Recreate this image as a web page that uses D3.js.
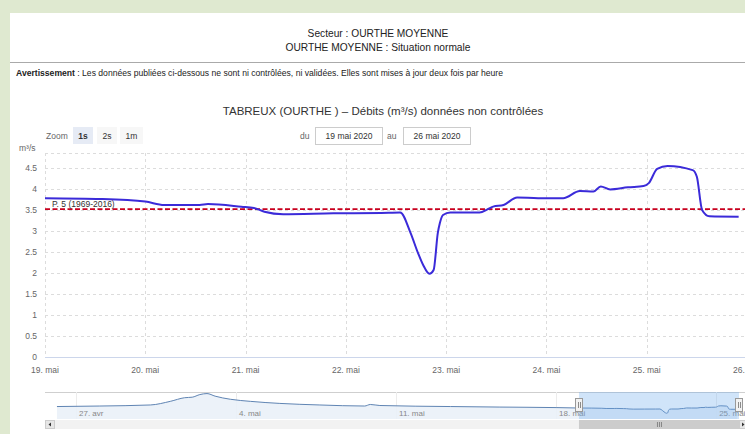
<!DOCTYPE html>
<html>
<head>
<meta charset="utf-8">
<script src="https://cdn.jsdelivr.net/npm/d3@7"></script>
<style>
  body { margin: 0; background: #dfe9d0; }
  svg { display: block; font-family: "Liberation Sans", Arial, sans-serif; }
</style>
</head>
<body>
<svg id="chart" width="745" height="434"></svg>
<script>
// débits mesurés (m3/s) - fenêtre 19 -> 26 mai 2020
const mainTimes = [
  "2020-05-19 00:00", "2020-05-19 13:30", "2020-05-20 00:00", "2020-05-20 04:30",
  "2020-05-20 13:00", "2020-05-20 15:00", "2020-05-20 23:00", "2020-05-21 02:00",
  "2020-05-21 04:30", "2020-05-21 09:00", "2020-05-21 21:00", "2020-05-22 08:30",
  "2020-05-22 13:00", "2020-05-22 15:30", "2020-05-22 17:15", "2020-05-22 18:30",
  "2020-05-22 20:00", "2020-05-22 21:00", "2020-05-22 22:00", "2020-05-22 22:30",
  "2020-05-22 23:15", "2020-05-23 01:00", "2020-05-23 08:00", "2020-05-23 10:00",
  "2020-05-23 11:15", "2020-05-23 13:45", "2020-05-23 17:00", "2020-05-23 22:00",
  "2020-05-24 04:00", "2020-05-24 08:00", "2020-05-24 11:15", "2020-05-24 13:00",
  "2020-05-24 15:15", "2020-05-24 19:30", "2020-05-24 23:15", "2020-05-25 00:30",
  "2020-05-25 02:30", "2020-05-25 05:00", "2020-05-25 11:00", "2020-05-25 12:00",
  "2020-05-25 13:15", "2020-05-25 15:00", "2020-05-25 22:00"
];
const mainValues = [
  3.78, 3.76, 3.70, 3.62, 3.62, 3.64, 3.58, 3.55,
  3.46, 3.40, 3.42, 3.43, 3.44, 2.95, 2.48, 2.19,
  1.98, 2.07, 2.95, 3.19, 3.38, 3.44, 3.44, 3.52,
  3.58, 3.62, 3.80, 3.78, 3.78, 3.95, 3.94, 4.06,
  3.99, 4.04, 4.07, 4.14, 4.48, 4.55, 4.45, 4.29,
  3.50, 3.35, 3.34
];
// historique pour le navigateur (avant le 19 mai)
const navTimes = [
  "2020-04-26 04:00", "2020-04-28 01:00", "2020-04-30 06:00", "2020-05-01 03:00",
  "2020-05-01 18:00", "2020-05-02 02:00", "2020-05-02 10:00", "2020-05-02 17:30",
  "2020-05-03 02:00", "2020-05-03 18:00", "2020-05-04 15:00", "2020-05-05 22:00",
  "2020-05-07 16:00", "2020-05-09 15:00", "2020-05-09 21:00", "2020-05-10 07:00",
  "2020-05-13 09:00", "2020-05-15 13:00", "2020-05-18 00:00"
];
const navValues = [
  4.29, 4.47, 4.83, 6.08, 7.33, 7.51, 8.41, 8.76,
  7.87, 6.80, 6.08, 5.37, 4.83, 4.47, 5.00, 4.65,
  4.29, 4.11, 3.93
];
const percentileValue = 3.52;
const percentileLabel = "P. 5 (1969-2016)";
const yTicks = [0, 0.5, 1, 1.5, 2, 2.5, 3, 3.5, 4, 4.5];
const xTickDays = ["2020-05-19", "2020-05-20", "2020-05-21", "2020-05-22",
                   "2020-05-23", "2020-05-24", "2020-05-25", "2020-05-26"];
const navTickDays = ["2020-04-27", "2020-05-04", "2020-05-11", "2020-05-18", "2020-05-25"];
const moisFr = ["janv.", "févr.", "mars", "avr", "mai", "juin", "juil.", "août", "sept.", "oct.", "nov.", "déc."];
const zoomButtons = ["1s", "2s", "1m"];

const parseT = d3.timeParse("%Y-%m-%d %H:%M");
const parseD = d3.timeParse("%Y-%m-%d");
const mainData = mainTimes.map((t, i) => ({ t: parseT(t), v: mainValues[i] }));
const navData = navTimes.map((t, i) => ({ t: parseT(t), v: navValues[i] })).concat(mainData);
const fmtDay = d => d.getDate() + ". " + moisFr[d.getMonth()];

const svg = d3.select("#chart");

// panneau blanc
svg.append("rect").attr("x", 10).attr("y", 13).attr("width", 735).attr("height", 421).attr("fill", "#fff");

// en-tête
svg.append("text").attr("x", 378).attr("y", 37).attr("text-anchor", "middle")
  .attr("font-size", 10.2).attr("fill", "#222").text("Secteur : OURTHE MOYENNE");
svg.append("text").attr("x", 378).attr("y", 51).attr("text-anchor", "middle")
  .attr("font-size", 10.2).attr("fill", "#222").text("OURTHE MOYENNE : Situation normale");
svg.append("line").attr("x1", 10).attr("x2", 745).attr("y1", 62.5).attr("y2", 62.5)
  .attr("stroke", "#aaa");
const avert = svg.append("text").attr("x", 16).attr("y", 75.5).attr("font-size", 8.6).attr("fill", "#222");
avert.append("tspan").attr("font-weight", "bold").text("Avertissement");
avert.append("tspan").text(" : Les données publiées ci-dessous ne sont ni contrôlées, ni validées. Elles sont mises à jour deux fois par heure");

// titre du graphique
svg.append("text").attr("x", 383).attr("y", 115).attr("text-anchor", "middle")
  .attr("font-size", 11.5).attr("fill", "#333")
  .text("TABREUX (OURTHE ) – Débits (m³/s) données non contrôlées");

// boutons de zoom
svg.append("text").attr("x", 46).attr("y", 138.5).attr("font-size", 8.5).attr("fill", "#666").text("Zoom");
const btnX = [73, 97, 120], btnW = [20, 20, 23];
zoomButtons.forEach((b, i) => {
  svg.append("rect").attr("x", btnX[i]).attr("y", 127).attr("width", btnW[i]).attr("height", 17)
    .attr("fill", i === 0 ? "#e6ebf5" : "#f7f7f7");
  svg.append("text").attr("x", btnX[i] + btnW[i] / 2).attr("y", 138.5).attr("text-anchor", "middle")
    .attr("font-size", 8.5).attr("fill", "#333").attr("font-weight", i === 0 ? "bold" : "normal").text(b);
});

// sélecteur de dates
svg.append("text").attr("x", 300).attr("y", 138.5).attr("font-size", 8.5).attr("fill", "#666").text("du");
svg.append("text").attr("x", 387).attr("y", 138.5).attr("font-size", 8.5).attr("fill", "#666").text("au");
[[315, "19 mai 2020"], [403, "26 mai 2020"]].forEach(([x, s]) => {
  svg.append("rect").attr("x", x + 0.5).attr("y", 127.5).attr("width", 67).attr("height", 17)
    .attr("fill", "#fff").attr("stroke", "#ccc");
  svg.append("text").attr("x", x + 34).attr("y", 139).attr("text-anchor", "middle")
    .attr("font-size", 8.5).attr("fill", "#333").text(s);
});

// zone de tracé
const plotTop = 153, plotBottom = 357, plotLeft = 45;
const x = d3.scaleTime().domain([parseD("2020-05-19"), parseD("2020-05-26")]).range([plotLeft, 747]);
const y = d3.scaleLinear().domain([0, (plotBottom - plotTop) / 42]).range([plotBottom, plotTop]);

const grid = svg.append("g").attr("stroke", "#dcdcdc").attr("stroke-dasharray", "3,3");
yTicks.concat([y.domain()[1]]).forEach(v => {
  if (v === 0) return;
  grid.append("line").attr("x1", plotLeft).attr("x2", 747)
    .attr("y1", Math.round(y(v)) + 0.5).attr("y2", Math.round(y(v)) + 0.5);
});
xTickDays.forEach(d => {
  const px = Math.round(x(parseD(d))) + 0.5;
  grid.append("line").attr("x1", px).attr("x2", px).attr("y1", plotTop).attr("y2", plotBottom);
});

// axe y
svg.append("g").selectAll("text").data(yTicks).join("text")
  .attr("x", 37).attr("y", d => y(d) + 3).attr("text-anchor", "end")
  .attr("font-size", 8.5).attr("fill", "#666").text(d => d);
svg.append("text").attr("x", 19).attr("y", 151).attr("font-size", 8.5).attr("fill", "#666").text("m³/s");

// axe x
svg.append("line").attr("x1", plotLeft).attr("x2", 747).attr("y1", plotBottom + 0.5).attr("y2", plotBottom + 0.5)
  .attr("stroke", "#ccd6eb");
svg.append("g").selectAll("text").data(xTickDays).join("text")
  .attr("x", d => x(parseD(d))).attr("y", 373).attr("text-anchor", "middle")
  .attr("font-size", 8.5).attr("fill", "#666").text(d => fmtDay(parseD(d)));

// seuil P. 5
svg.append("line").attr("x1", plotLeft).attr("x2", 747)
  .attr("y1", y(percentileValue)).attr("y2", y(percentileValue))
  .attr("stroke", "#c8001e").attr("stroke-width", 1.6).attr("stroke-dasharray", "5,2.5");
svg.append("text").attr("x", 52).attr("y", y(percentileValue) - 2.5)
  .attr("font-size", 8.5).attr("fill", "#333").text(percentileLabel);

// série principale
svg.append("clipPath").attr("id", "clip").append("rect")
  .attr("x", plotLeft).attr("y", plotTop - 5).attr("width", 702).attr("height", plotBottom - plotTop + 5);
svg.append("path").datum(mainData)
  .attr("clip-path", "url(#clip)")
  .attr("fill", "none").attr("stroke", "#3b2bd9").attr("stroke-width", 2)
  .attr("stroke-linejoin", "round")
  .attr("d", d3.line().x(d => x(d.t)).y(d => y(d.v)).curve(d3.curveMonotoneX));

// navigateur
const navTop = 392, navBottom = 419;
const xn = d3.scaleTime().domain([new Date(2020, 3, 25, 15, 27), parseD("2020-05-26")]).range([plotLeft, 739]);
const yn = d3.scaleLinear().domain([0, 9.3]).range([navBottom, navTop]);

svg.append("line").attr("x1", plotLeft).attr("x2", 745).attr("y1", navTop + 0.5).attr("y2", navTop + 0.5)
  .attr("stroke", "#cfcfcf");
navTickDays.forEach(d => {
  const px = Math.round(xn(parseD(d))) + 0.5;
  svg.append("line").attr("x1", px).attr("x2", px).attr("y1", navTop).attr("y2", navBottom)
    .attr("stroke", "#ececec");
});
svg.append("path").datum(navData)
  .attr("fill", "#eaf1f8").attr("fill-opacity", 0.9)
  .attr("d", d3.area().x(d => xn(d.t)).y0(navBottom).y1(d => yn(d.v)).curve(d3.curveMonotoneX));
svg.append("path").datum(navData)
  .attr("fill", "none").attr("stroke", "#5f84b3").attr("stroke-width", 1)
  .attr("d", d3.line().x(d => xn(d.t)).y(d => yn(d.v)).curve(d3.curveMonotoneX));
svg.append("g").selectAll("text").data(navTickDays).join("text")
  .attr("x", d => xn(parseD(d)) + 3).attr("y", 416).attr("font-size", 8).attr("fill", "#888")
  .text(d => fmtDay(parseD(d)));

// fenêtre sélectionnée
const selA = xn(parseD("2020-05-19")), selB = xn(parseD("2020-05-26"));
svg.append("rect").attr("x", selA).attr("y", navTop).attr("width", selB - selA).attr("height", navBottom - navTop)
  .attr("fill", "rgba(110,170,235,0.32)");
[selA, selB].forEach(hx => {
  svg.append("rect").attr("x", Math.round(hx) - 3.5).attr("y", 398.5).attr("width", 7).attr("height", 13)
    .attr("fill", "#f2f2f2").attr("stroke", "#999");
  [-1, 1].forEach(o => svg.append("line").attr("x1", Math.round(hx) + o + 0.5).attr("x2", Math.round(hx) + o + 0.5)
    .attr("y1", 402).attr("y2", 408).attr("stroke", "#444").attr("stroke-width", 0.6));
});

// barre de défilement
svg.append("rect").attr("x", plotLeft).attr("y", 420).attr("width", 700).attr("height", 9).attr("fill", "#f2f2f2");
svg.append("rect").attr("x", selA).attr("y", 420).attr("width", selB - selA).attr("height", 9).attr("fill", "#cccccc");
[0, 1, 2].forEach(k => svg.append("line")
  .attr("x1", (selA + selB) / 2 - 2 + 2 * k + 0.5).attr("x2", (selA + selB) / 2 - 2 + 2 * k + 0.5)
  .attr("y1", 422).attr("y2", 427).attr("stroke", "#555").attr("stroke-width", 0.6));
svg.append("rect").attr("x", plotLeft + 0.5).attr("y", 420.5).attr("width", 9).attr("height", 8)
  .attr("fill", "#e6e6e6").attr("stroke", "#ccc");
svg.append("path").attr("d", `M${plotLeft + 6},422.5 L${plotLeft + 3.5},424.5 L${plotLeft + 6},426.5 Z`).attr("fill", "#333");
svg.append("rect").attr("x", 739.5).attr("y", 420.5).attr("width", 9).attr("height", 8)
  .attr("fill", "#e6e6e6").attr("stroke", "#ccc");
svg.append("path").attr("d", "M742,422.5 L744.5,424.5 L742,426.5 Z").attr("fill", "#333");
</script>
</body>
</html>
